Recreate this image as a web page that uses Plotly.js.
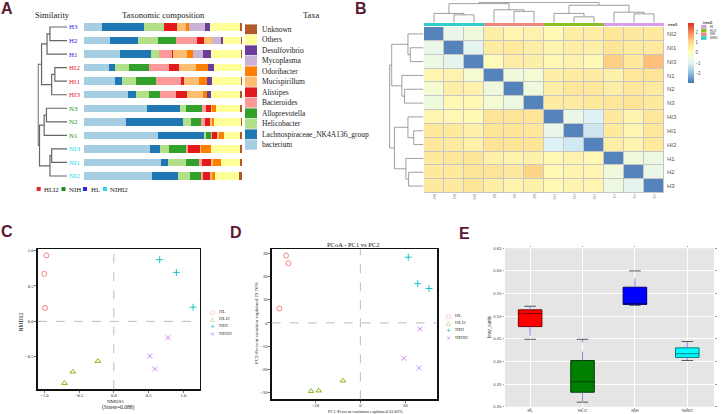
<!DOCTYPE html>
<html><head><meta charset="utf-8">
<script src="https://cdn.plot.ly/plotly-3.0.1.min.js"></script>
<style>html,body{margin:0;padding:0;background:#fff}#chart{width:721px;height:414px}</style>
</head><body><div id="chart"></div>
<script>
const W = 721, H = 414;
const fx = v => v / W, fy = v => 1 - v / H;

// ---------------- Panel A data ----------------
const samplesA = ['H3','H2','H1','HI2','HI1','HI3','N3','N2','N1','NI3','NI1','NI2'];
const sampleGroupsA = ['HL','HL','HL','HLI2','HLI2','HLI2','NIH','NIH','NIH','NIHI2','NIHI2','NIHI2'];
const taxa = ['bacterium','Lachnospiraceae_NK4A136_group','Helicobacter','Alloprevotella','Bacteroides','Alistipes','Mucispirillum','Odoribacter','Mycoplasma','Desulfovibrio','Others','Unknown'];
const bacterium     = [11.2,16.5,22.8,15.6,19.5,27.7,40.0,26.4,46.9,41.9,48.8,43.1];
const lachnospiraceae=[26.8,17.5,19.7,3.8,4.4,5.5,20.5,36.4,28.8,5.9,4.4,16.1];
const helicobacter  = [12.9,12.9,4.7,9.3,9.1,7.8,3.8,4.7,1.7,5.9,11.4,8.2];
const alloprevotella= [0,11.4,0,12.7,12.3,7.2,10.4,6.8,3.0,10.8,8.0,6.8];
const bacteroides   = [0,13.5,8.7,12.7,16.3,10.1,2.5,2.1,0.8,1.5,1.9,1.3];
const alistipes     = [7.8,4.2,0.6,6.1,1.7,7.2,3.0,3.6,3.2,7.6,6.1,4.0];
const mucispirillum = [5.9,4.7,8.9,10.4,9.7,9.7,1.0,1.3,1.0,0.2,1.3,1.3];
const odoribacter   = [1.7,0.3,3.6,8.0,4.9,2.7,2.1,0.8,3.0,6.6,4.9,1.9];
const mycoplasma    = [10.4,5.5,6.6,0,0,0,0,0,0,0,0,0];
const desulfovibrio = [3.2,1.7,4.7,3.4,3.2,2.7,0,0,0,0,0,0];
const others        = [19.0,11.4,19.2,18.0,18.0,18.2,15.6,17.3,10.6,18.6,12.1,15.6];
const unknown       = [1.1,0.6,0.6,0.3,1.1,1.1,1.1,0.6,1.1,1.1,1.1,1.7];
const taxaValues = [bacterium,lachnospiraceae,helicobacter,alloprevotella,bacteroides,alistipes,mucispirillum,odoribacter,mycoplasma,desulfovibrio,others,unknown];
const taxaColors = ['#a6cee3','#1f78b4','#b2df8a','#33a02c','#fb9a99','#e31a1c','#fdbf6f','#ff7f00','#cab2d6','#6a3d9a','#ffff99','#b15928'];
// dendrogram A (merge i joins left[i] and right[i] at height[i]; 'mK' = merge K)
const dendroA_left  = ['H3','m0','HI2','m2','m1','N3','m5','NI3','m7','m6','m4'];
const dendroA_right = ['H2','H1','HI1','HI3','m3','N2','N1','NI1','NI2','m8','m9'];
const dendroA_height= [0.59,0.69,0.42,0.53,0.88,0.71,0.79,0.53,0.59,0.95,1.0];
const groupLegendA = ['HLI2','NIH','HL','NIHI2'];
const groupLabelColors = {HL:'#2a2ad8', HLI2:'#e3262b', NIH:'#1f8f24', NIHI2:'#22dde8'};

// ---------------- Panel B data ----------------
const hmSamples = ['NI2','NI1','NI3','N1','N2','N3','HI3','HI1','HI2','H1','H2','H3'];
const hmGroups  = ['NIHI2','NIHI2','NIHI2','NIH','NIH','NIH','HLI2','HLI2','HLI2','HL','HL','HL'];
const hmZ = [
 [-2.7,-0.7,-0.5,0.5,0.3,0.4,0.2,0.55,0.55,0.75,0.65,0.7],
 [-0.7,-2.7,-0.8,0.6,0.7,0.55,0.35,0.5,0.5,0.8,0.65,0.7],
 [-0.6,-0.8,-2.7,0.1,0.55,0.5,0.25,0.4,0.2,1.15,0.7,1.35],
 [0.3,0.4,-0.3,-2.7,-0.5,-0.35,0.5,0.6,0.6,0.45,0.75,0.8],
 [-0.3,0.5,0.4,-0.5,-2.7,-0.5,0.55,0.75,0.75,0.55,0.75,0.65],
 [-0.5,0.2,0.2,-0.35,-0.6,-2.7,0.6,0.6,0.7,0.75,0.85,0.7],
 [0.3,0.25,0.2,0.85,0.85,0.8,-2.7,-0.7,-1.0,0.65,0.35,0.75],
 [0.75,0.7,0.45,0.8,0.8,0.75,-0.7,-2.7,-1.2,0.7,0.3,0.75],
 [0.75,0.65,0.45,0.85,0.85,0.8,-1.0,-1.15,-2.7,0.55,0.35,0.7],
 [0.7,0.75,0.8,0.45,0.35,0.45,0.25,0.4,0.25,-2.7,-0.5,-0.6],
 [0.7,0.7,0.85,0.85,0.65,1.1,0.2,0.35,0.3,-0.5,-2.7,-0.7],
 [0.65,0.65,0.8,0.5,0.35,0.45,0.2,0.35,0.3,-0.6,-0.8,-2.7]
];
const dendroB_left  = ['NI1','NI2','N2','N1','m1','HI1','HI3','H2','H1','m6','m4'];
const dendroB_right = ['NI3','m0','N3','m2','m3','HI2','m5','H3','m7','m8','m9'];
const dendroB_height= [0.39,0.46,0.56,0.64,0.94,0.29,0.46,0.44,0.52,0.86,1.0];
const treatLegend = ['HL','HLI2','NIH','NIHI2'];
const treatColors = {HL:'#d99ce8', HLI2:'#8cbf26', NIH:'#f0867e', NIHI2:'#33cccc'};
const colorbarTicks = [-2,-1,0,1,2];

// ---------------- Panel C / D data ----------------
const groups = ['HL','HLI2','NIH','NIHI2'];
const pointGroup = ['HL','HL','HL','HLI2','HLI2','HLI2','NIH','NIH','NIH','NIHI2','NIHI2','NIHI2'];
const nmds1 = [-0.97,-1.0,-0.99,-0.71,-0.59,-0.23,0.66,0.90,1.14,0.78,0.52,0.59];
const nmds2 = [0.93,0.67,0.19,-0.87,-0.71,-0.56,0.87,0.69,0.20,-0.23,-0.49,-0.67];
const pc1 = [-33.0,-32.0,-36.0,-21.9,-18.5,-7.7,21.3,25.5,30.5,26.5,19.3,26.1];
const pc2 = [29.0,25.7,6.2,-29.4,-29.2,-24.9,28.3,16.9,14.8,-2.6,-15.2,-19.4];
const groupColors = {HL:'#F8766D', HLI2:'#7CAE00', NIH:'#00BFC4', NIHI2:'#C77CFF'};
const groupSymbols = {HL:'circle-open', HLI2:'triangle-up-open', NIH:'cross-thin-open', NIHI2:'x-thin-open'};
const groupGlyphs = {HL:'○', HLI2:'△', NIH:'+', NIHI2:'×'};

// ---------------- Panel E data ----------------
const boxGroups = ['HL','HLI2','NIH','NIHI2'];
const boxQ1 = [0.477,0.332,0.526,0.409];
const boxMedian = [0.506,0.355,0.527,0.417];
const boxQ3 = [0.514,0.402,0.564,0.430];
const whiskerLow = [0.449,0.310,0.524,0.402];
const whiskerHigh = [0.522,0.449,0.600,0.444];
const boxFill = ['#ff0000','#008000','#0000ff','#00ffff'];
const boxLine = ['#7a0000','#003c00','#00007a','#007a7a'];

// ---------------- build ----------------
function dendro(leaves, left, right, height) {
  const pos = {}, ht = {};
  leaves.forEach((l, i) => { pos[l] = i; ht[l] = 0; });
  const P = [], Hs = [];
  left.forEach((a, k) => {
    const b = right[k], h = height[k];
    P.push(pos[a], pos[a], pos[b], pos[b], null);
    Hs.push(ht[a], h, h, ht[b], null);
    pos['m' + k] = (pos[a] + pos[b]) / 2; ht['m' + k] = h;
  });
  return {P, Hs};
}

const traces = [];
const serif = 'Liberation Serif, Times New Roman, serif';
const sans = 'Liberation Sans, Arial, sans-serif';

// A bars
taxa.forEach((t, i) => {
  traces.push({type:'bar', orientation:'h', y:samplesA, x:taxaValues[i], name:t,
    marker:{color:taxaColors[i], line:{width:0}}, xaxis:'x', yaxis:'y', hoverinfo:'skip'});
});
// A dendrogram
const dA = dendro(samplesA, dendroA_left, dendroA_right, dendroA_height);
traces.push({type:'scatter', mode:'lines', x:dA.Hs, y:dA.P, xaxis:'x2', yaxis:'y2',
  line:{color:'#666', width:1.2}, hoverinfo:'skip'});

// B heatmap
const rdylbu = [[0,'#4575b4'],[1/6,'#91bfdb'],[2/6,'#e0f3f8'],[3/6,'#ffffbf'],[4/6,'#fee090'],[5/6,'#fc8d59'],[1,'#d73027']];
traces.push({type:'heatmap', z:hmZ, x:hmSamples, y:hmSamples, xaxis:'x3', yaxis:'y3',
  colorscale:rdylbu, zmin:-2.9, zmax:2.9, xgap:1, ygap:1, hoverinfo:'skip',
  colorbar:{x:fx(688), xanchor:'left', y:fy(52.7), yanchor:'middle', len:60, lenmode:'pixels',
    thickness:6, thicknessmode:'pixels', outlinewidth:0, tickvals:colorbarTicks, ticks:'',
    tickfont:{size:4.5, color:'#555', family:sans}, xpad:0, ypad:0}});
const dB = dendro(hmSamples, dendroB_left, dendroB_right, dendroB_height);
traces.push({type:'scatter', mode:'lines', x:dB.Hs, y:dB.P, xaxis:'x4', yaxis:'y4',
  line:{color:'#777', width:0.7}, hoverinfo:'skip'});
traces.push({type:'scatter', mode:'lines', x:dB.P, y:dB.Hs, xaxis:'x5', yaxis:'y5',
  line:{color:'#777', width:0.7}, hoverinfo:'skip'});

// C & D scatter
groups.forEach(g => {
  const idx = pointGroup.map((pg, i) => pg === g ? i : -1).filter(i => i >= 0);
  const mk = {symbol:groupSymbols[g], size:5, color:groupColors[g], line:{color:groupColors[g], width:0.9}};
  traces.push({type:'scatter', mode:'markers', x:idx.map(i => nmds1[i]), y:idx.map(i => nmds2[i]),
    xaxis:'x6', yaxis:'y6', marker:mk, name:g, hoverinfo:'skip'});
  traces.push({type:'scatter', mode:'markers', x:idx.map(i => pc1[i]), y:idx.map(i => pc2[i]),
    xaxis:'x7', yaxis:'y7', marker:mk, name:g, hoverinfo:'skip'});
});

// E boxes
boxGroups.forEach((g, i) => {
  traces.push({type:'box', x:[i], q1:[boxQ1[i]], median:[boxMedian[i]], q3:[boxQ3[i]],
    lowerfence:[boxQ1[i]], upperfence:[boxQ3[i]], width:0.45, whiskerwidth:0,
    fillcolor:boxFill[i], line:{color:boxLine[i], width:1}, xaxis:'x8', yaxis:'y8',
    boxpoints:false, hoverinfo:'skip', name:g});
});
const wx = [], wy = [], cx = [], cy = [];
boxGroups.forEach((g, i) => {
  wx.push(i, i, null, i, i, null); wy.push(boxQ3[i], whiskerHigh[i], null, boxQ1[i], whiskerLow[i], null);
  cx.push(i-0.11, i+0.11, null, i-0.11, i+0.11, null); cy.push(whiskerHigh[i], whiskerHigh[i], null, whiskerLow[i], whiskerLow[i], null);
});
traces.push({type:'scatter', mode:'lines', x:wx, y:wy, xaxis:'x8', yaxis:'y8', line:{color:'#6b6bea', width:0.8, dash:'dash'}, hoverinfo:'skip'});
traces.push({type:'scatter', mode:'lines', x:cx, y:cy, xaxis:'x8', yaxis:'y8', line:{color:'#333', width:0.8}, hoverinfo:'skip'});

// ---------------- layout ----------------
const annotations = [], shapes = [];
function ann(text, x, y, o) {
  annotations.push(Object.assign({text, x:fx(x), y:fy(y), xref:'paper', yref:'paper', showarrow:false,
    xanchor:'center', yanchor:'middle', font:{family:serif, size:7, color:'#222'}}, o || {}));
}
// panel letters
[['A',7,9],['B',361,9],['C',7,231],['D',236,232],['E',464,234]].forEach(p =>
  ann('<b>' + p[0] + '</b>', p[1], p[2], {font:{family:sans, size:16, color:'#5b1a33'}}));
// A headers
ann('Similarity', 52.5, 15, {font:{family:serif, size:8.5, color:'#222'}});
ann('Taxonomic composition', 163.3, 15, {font:{family:serif, size:8.5, color:'#222'}});
ann('Taxa', 311, 15, {font:{family:serif, size:8.5, color:'#222'}});
// taxa legend (reversed order)
taxa.slice().reverse().forEach((t, k) => {
  const yc = 29.3 + k * 10.5;
  const ci = taxa.length - 1 - k;
  shapes.push({type:'rect', xref:'paper', yref:'paper', x0:fx(245), x1:fx(257), y0:fy(yc+4.9), y1:fy(yc-4.9),
    fillcolor:taxaColors[ci], line:{width:0}});
  ann(t, 259.5, yc, {xanchor:'left', font:{family:serif, size:7.5, color:'#222'}});
});
// A group legend
const glX = [36.7, 61.5, 83, 103];
groupLegendA.forEach((g, i) => {
  shapes.push({type:'rect', xref:'paper', yref:'paper', x0:fx(glX[i]), x1:fx(glX[i]+4), y0:fy(191), y1:fy(187),
    fillcolor:groupLabelColors[g], line:{width:0}});
  ann(g, glX[i] + 5.5, 189, {xanchor:'left', font:{family:serif, size:6.8, color:'#222'}});
});
// B strip
hmGroups.forEach((g, i) => {
  shapes.push({type:'rect', xref:'x3', yref:'paper', x0:i-0.5, x1:i+0.5, y0:fy(26), y1:fy(23),
    fillcolor:treatColors[g], line:{width:0}});
});
shapes.push({type:'rect', xref:'x3 domain', yref:'y3 domain', x0:0, x1:1, y0:0, y1:1, fillcolor:'#c6c6c6', line:{width:0}, layer:'below'});
ann('<b>treat1</b>', 666, 24.5, {xanchor:'left', font:{family:sans, size:3.5, color:'#333'}});
ann('<b>treat1</b>', 701, 23, {xanchor:'left', font:{family:sans, size:3.5, color:'#333'}});
treatLegend.forEach((g, i) => {
  const yc = 26.8 + i * 3.75;
  shapes.push({type:'rect', xref:'paper', yref:'paper', x0:fx(701), x1:fx(706.5), y0:fy(yc+1.8), y1:fy(yc-1.8),
    fillcolor:treatColors[g], line:{width:0}});
  ann(g, 707.5, yc, {xanchor:'left', font:{family:sans, size:3, color:'#333'}});
});
// C / D zero lines
[['x6','y6'],['x7','y7']].forEach(([xa, ya]) => {
  shapes.push({type:'line', xref:xa, yref:ya + ' domain', x0:0, x1:0, y0:0, y1:1, line:{color:'#bbb', width:1, dash:'dash'}});
  shapes.push({type:'line', xref:xa + ' domain', yref:ya, x0:0, x1:1, y0:0, y1:0, line:{color:'#bbb', width:1, dash:'dash'}});
});
// C / D legends
function legendAt(x, y0, dy) {
  groups.forEach((g, i) => {
    ann(groupGlyphs[g], x, y0 + i * dy, {font:{family:'DejaVu Sans', size:6, color:groupColors[g]}});
    ann(g, x + 4.5, y0 + i * dy, {xanchor:'left', font:{family:serif, size:5, color:'#333'}});
  });
}
legendAt(212.7, 311, 7.4);
legendAt(448.3, 315.7, 7.1);
// C / D titles
ann('NMDS1', 115.5, 401.3, {font:{family:serif, size:5, color:'#222'}});
ann('(Stress=0.088)', 118.3, 407, {font:{family:serif, size:5.5, color:'#222'}});
ann('NMDS2', 20.7, 321.7, {textangle:-90, font:{family:serif, size:5.5, color:'#222'}});
ann('PCoA - PC1 vs PC2', 353, 245, {font:{family:serif, size:6.5, color:'#222'}});
ann('PC1-Percent variation explained 32.82%', 365, 411, {font:{family:serif, size:4.6, color:'#222'}});
ann('PC2-Percent variation explained 23.76%', 256.7, 323.3, {textangle:-90, font:{family:serif, size:5, color:'#222'}});
// E background and title
shapes.push({type:'rect', xref:'x8 domain', yref:'y8 domain', x0:0, x1:1, y0:0, y1:1, fillcolor:'#e5e5e5', line:{width:0}, layer:'below'});
ann('bray_curtis', 489.3, 326.7, {textangle:-90, font:{family:sans, size:4.5, color:'#333'}});

const hidden = {visible:false, showgrid:false, zeroline:false, fixedrange:true};
const frameAxis = {showline:true, mirror:true, linecolor:'#111', linewidth:1.3, ticks:'outside', ticklen:2,
  tickwidth:0.7, tickcolor:'#333', showgrid:false, zeroline:false, tickfont:{family:serif, size:4.6, color:'#222'}};
const eAxis = {showgrid:true, gridcolor:'#ffffff', gridwidth:1, zeroline:false, ticks:'outside', ticklen:1.5,
  tickwidth:0.6, tickcolor:'#555', showline:true, linecolor:'rgba(0,0,0,0)', mirror:'ticks',
  tickfont:{family:sans, size:4.3, color:'#444'}};

const rowsTop = 20.23, rowsBot = 182.77;
const layout = {
  width:W, height:H, margin:{l:0, r:0, t:0, b:0}, paper_bgcolor:'#fff', plot_bgcolor:'rgba(0,0,0,0)',
  showlegend:false, barmode:'stack', bargap:0.45, font:{family:serif, size:7},
  xaxis: Object.assign({}, hidden, {domain:[fx(84), fx(242)], range:[0,100], anchor:'y'}),
  yaxis: Object.assign({}, hidden, {domain:[fy(rowsBot), fy(rowsTop)], type:'category', range:[11.5,-0.5], anchor:'x'}),
  xaxis2: Object.assign({}, hidden, {domain:[fx(37.5), fx(67)], range:[1.02,0], anchor:'y2'}),
  yaxis2: {domain:[fy(rowsBot), fy(rowsTop)], range:[11.5,-0.5], anchor:'x2', side:'right', showline:false,
    showgrid:false, zeroline:false, ticks:'', tickvals:samplesA.map((s,i)=>i),
    ticktext:samplesA.map((s,i)=>'<span style="color:'+groupLabelColors[sampleGroupsA[i]]+'">'+s+'</span>'),
    tickfont:{family:serif, size:7}, ticklabelstandoff:1, fixedrange:true},
  xaxis3: {domain:[fx(424), fx(664)], anchor:'y3', type:'category', showgrid:false, zeroline:false, showline:false,
    ticks:'', tickangle:90, tickfont:{family:sans, size:3.5, color:'#777'}, fixedrange:true},
  yaxis3: {domain:[fy(193), fy(27)], anchor:'x3', type:'category', range:[11.5,-0.5], side:'right', showgrid:false,
    zeroline:false, showline:false, ticks:'', tickfont:{family:sans, size:6, color:'#555'}, ticklabelstandoff:2, fixedrange:true},
  xaxis4: Object.assign({}, hidden, {domain:[fx(389), fx(423.5)], range:[1.02,0], anchor:'y4'}),
  yaxis4: Object.assign({}, hidden, {domain:[fy(193), fy(27)], range:[11.5,-0.5], anchor:'x4'}),
  xaxis5: Object.assign({}, hidden, {domain:[fx(424), fx(664)], range:[-0.5,11.5], anchor:'y5'}),
  yaxis5: Object.assign({}, hidden, {domain:[fy(22.8), fy(2)], range:[0,1.02], anchor:'x5'}),
  xaxis6: Object.assign({}, frameAxis, {domain:[fx(37.7), fx(200)], range:[-1.095,1.24], dtick:0.5, tickformat:'.1f', anchor:'y6', ticklabelstandoff:-1}),
  yaxis6: Object.assign({}, frameAxis, {domain:[fy(389.3), fy(249)], range:[-0.957,1.02], dtick:0.5, tickformat:'.1f', anchor:'x6'}),
  xaxis7: Object.assign({}, frameAxis, {domain:[fx(271.7), fx(437.3)], range:[-39.4,34.2], dtick:20, anchor:'y7', ticklabelstandoff:-1}),
  yaxis7: Object.assign({}, frameAxis, {domain:[fy(399.3), fy(249.3)], range:[-32.9,31.7], dtick:10, anchor:'x7'}),
  xaxis8: Object.assign({}, eAxis, {domain:[fx(505), fx(714)], range:[-0.48,3.51], tickvals:boxGroups.map((g,i)=>i), ticktext:boxGroups, anchor:'y8', ticklabelstandoff:-2}),
  yaxis8: Object.assign({}, eAxis, {domain:[fy(406.7), fy(248.3)], range:[0.30,0.65], dtick:0.05, tickformat:'.2f', anchor:'x8'}),
  annotations, shapes
};
Plotly.newPlot('chart', traces, layout, {staticPlot:true, displayModeBar:false});
</script></body></html>
